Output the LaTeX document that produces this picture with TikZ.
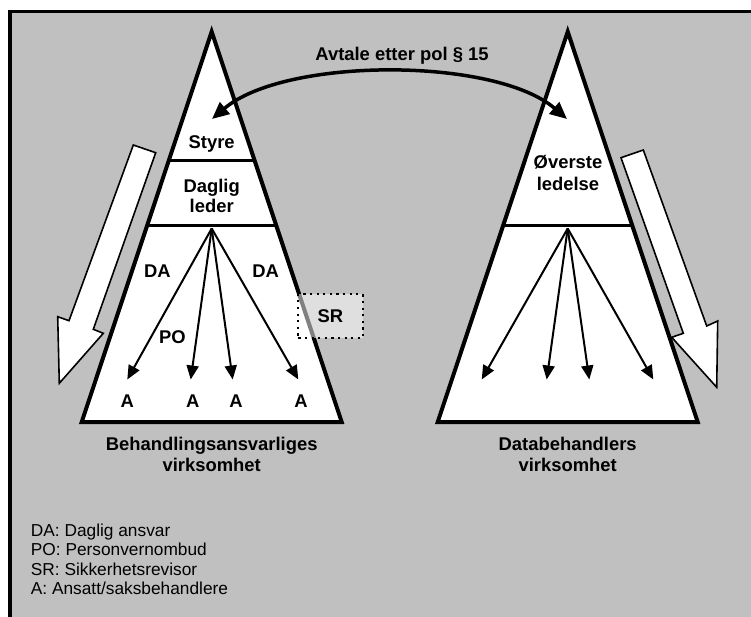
\documentclass[tikz,border=0pt]{standalone}
\usepackage{fontspec}
\setmainfont{Liberation Sans}
\usetikzlibrary{arrows.meta}
\definecolor{bg}{RGB}{192,192,192}
\begin{document}
\begin{tikzpicture}[x=1pt,y=-1pt,
  lbl/.style={font=\fontsize{18.4}{20}\selectfont\bfseries, inner sep=0pt, anchor=base},
  leg/.style={font=\fontsize{17.3}{19}\selectfont, inner sep=0pt, anchor=base west},
  tri/.style={draw, fill=white, line width=4pt, line join=miter},
  divline/.style={line width=3.5pt},
  fan/.style={line width=2pt, -{Triangle[length=14pt,width=12pt]}},
  bigarrow/.style={draw, fill=white, line width=1.6pt, line join=miter},
  deal/.style={line width=3.5pt, {Triangle[length=17pt,width=15pt]}-{Triangle[length=17pt,width=15pt]}},
  srbox/.style={draw, line width=2.2pt, dash pattern=on 2.2pt off 4.4pt, fill=white, fill opacity=0.5, minimum width=64.4pt, minimum height=43.4pt, inner sep=0pt}
]
\useasboundingbox (0,0) rectangle (751,617);
\fill[white] (0,0) rectangle (751,617);
\clip (0,0) rectangle (751,617);
% frame
\draw[fill=bg, line width=3.5pt] (10,11.7) rectangle (800,700);

% white process arrows
\path[bigarrow] (133.3,145) -- (155.7,152.7) -- (93.3,329.3) -- (103.3,333.3) -- (59.3,383.3) -- (57.7,316.7) -- (69,320.7) -- cycle;
\path[bigarrow] (621,157.7) -- (643.3,150) -- (706.7,326) -- (717.7,321) -- (716.7,387.3) -- (671.7,337.3) -- (683.3,333.3) -- cycle;

% triangles
\path[tri] (211.7,31.7) -- (341.7,422) -- (81.7,422) -- cycle;
\path[tri] (567.7,31.7) -- (697.7,422) -- (437.7,422) -- cycle;

% dividers
\draw[divline] (168.7,160.7) -- (254.7,160.7);
\draw[divline] (147.1,225.7) -- (276.3,225.7);
\draw[divline] (503.1,225.7) -- (632.3,225.7);

% fans
\coordinate (hubL) at (211.7,228.5);
\coordinate (hubR) at (567.7,228.5);
\coordinate (tL1) at (127.3,379.5);
\coordinate (tL2) at (190.7,379.5);
\coordinate (tL3) at (232.7,379.5);
\coordinate (tL4) at (298.3,379.5);
\coordinate (tR1) at (481.7,379.5);
\coordinate (tR2) at (546.7,379.5);
\coordinate (tR3) at (589.3,379.5);
\coordinate (tR4) at (653.3,379.5);
\foreach \t in {tL1,tL2,tL3,tL4} \draw[fan] (hubL) -- (\t);
\foreach \t in {tR1,tR2,tR3,tR4} \draw[fan] (hubR) -- (\t);

% agreement curve
\coordinate (cl) at (212,119);
\coordinate (cr) at (567,119);
\draw[deal] (cl) .. controls (285,57) and (495,57) .. (cr);

% SR box
\node[srbox] (srb) at (330.5,316) {};
\node[lbl] (sr) at (330.5,322.7) {SR};

% labels
\node[lbl] (avtale) at (402,61) {Avtale etter pol § 15};
\node[lbl] (styre) at (211.7,148.3) {Styre};
\node[lbl] (daglig) at (211.7,192.7) {Daglig};
\node[lbl] (leder) at (211.7,212.3) {leder};
\node[lbl] (overste) at (568,168.3) {Øverste};
\node[lbl] (ledelse) at (568,190.7) {ledelse};
\node[lbl] (da1) at (157.3,277.3) {DA};
\node[lbl] (da2) at (265.7,277.3) {DA};
\node[lbl] (po) at (172.3,343.3) {PO};
\node[lbl] (a1) at (127.3,407.3) {A};
\node[lbl] (a2) at (192.7,407.3) {A};
\node[lbl] (a3) at (236,407.3) {A};
\node[lbl] (a4) at (301,407.3) {A};
\node[lbl] (beh1) at (211.7,450.7) {Behandlingsansvarliges};
\node[lbl] (beh2) at (211.7,471) {virksomhet};
\node[lbl] (dat1) at (567.7,450.7) {Databehandlers};
\node[lbl] (dat2) at (567.7,471) {virksomhet};

% legend
\node[leg] (l1) at (30.7,536) {DA: Daglig ansvar};
\node[leg] (l2) at (30.7,555.5) {PO: Personvernombud};
\node[leg] (l3) at (30.7,575) {SR: Sikkerhetsrevisor};
\node[leg] (l4) at (30.7,594.5) {A: Ansatt/saksbehandlere};
\end{tikzpicture}
\end{document}
